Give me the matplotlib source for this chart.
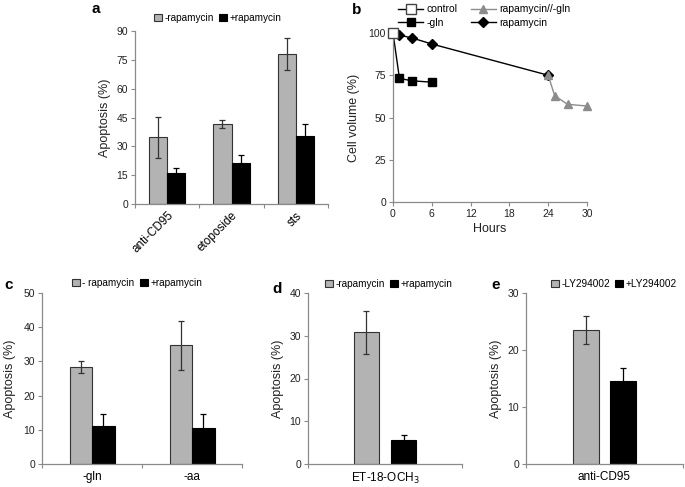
import matplotlib
matplotlib.use("Agg")
import matplotlib.pyplot as plt
import numpy as np

plt.rcParams['font.family'] = ['Liberation Sans', 'DejaVu Sans']

# panel a
a_cats = ["anti-CD95", "etoposide", "sts"]
a_minus = [34.6, 41.5, 77.9]
a_minus_err = [10.5, 2.0, 8.3]
a_plus = [15.9, 21.3, 35.5]
a_plus_err = [2.8, 4.3, 6.0]

# panel b
b_ctrl_x = [0]
b_ctrl_y = [100]
b_gln_x = [0, 1, 3, 6]
b_gln_y = [100, 73.1, 71.7, 70.9]
b_rap_x = [0, 1, 3, 6, 24]
b_rap_y = [100, 98.8, 97.0, 93.5, 75.0]
b_rapgln_x = [24, 25, 27, 30]
b_rapgln_y = [75.0, 62.9, 57.8, 56.8]

# panel c
c_cats = ["-gln", "-aa"]
c_minus = [28.3, 34.7]
c_minus_err = [1.7, 7.1]
c_plus = [11.1, 10.5]
c_plus_err = [3.5, 4.1]

# panel d
d_cats = ["ET-18-OCH$_3$"]
d_minus = [30.8]
d_minus_err = [5.0]
d_plus = [5.5]
d_plus_err = [1.3]

# panel e
e_cats = ["anti-CD95"]
e_minus = [23.5]
e_minus_err = [2.5]
e_plus = [14.6]
e_plus_err = [2.2]

GRAY = '#b3b3b3'
SPINE = '#8a8a8a'
W, H = 685, 487

fig = plt.figure(figsize=(6.85, 4.87), dpi=100)


def add_ax(left, right, top, bottom):
    return fig.add_axes([left / W, 1 - bottom / H, (right - left) / W, (bottom - top) / H])


def style(ax):
    for s in ['top', 'right']:
        ax.spines[s].set_visible(False)
    for s in ['left', 'bottom']:
        ax.spines[s].set_color(SPINE)
        ax.spines[s].set_linewidth(0.9)
    ax.tick_params(axis='both', which='major', length=3, width=0.8, color=SPINE,
                   labelsize=7.5, labelcolor='#222222', pad=2)


def bars(ax, n, minus, minus_err, plus, plus_err, width, off, cats, ylim, yticks):
    centers = np.arange(n) + 0.5
    ekw = dict(ecolor='#333333', elinewidth=0.9, capsize=2.5, capthick=0.9)
    ekw_black = dict(ekw, ecolor='black')
    ax.bar(centers - off, minus, width, yerr=minus_err, color=GRAY, edgecolor='#333333',
           linewidth=0.8, error_kw=ekw, label='minus')
    ax.bar(centers + off, plus, width, yerr=plus_err, color='black', edgecolor='black',
           linewidth=0.8, error_kw=ekw_black, label='plus')
    ax.set_xlim(0, n)
    ax.set_ylim(*ylim)
    ax.set_yticks(yticks)
    ax.set_xticks(np.arange(n + 1))
    ax.set_xticklabels([])
    ax.set_xticks(centers, minor=True)
    ax.set_xticklabels(cats, minor=True)
    ax.tick_params(axis='x', which='minor', length=0, labelsize=8.5, pad=5)
    style(ax)


def bar_legend(ax, labels, cx, cy):
    h, _ = ax.get_legend_handles_labels()
    fig.legend(h, labels, loc='center', bbox_to_anchor=(cx / W, 1 - cy / H), ncol=2,
               frameon=False, fontsize=7.2, handlelength=0.8, handleheight=0.8,
               handletextpad=0.25, columnspacing=0.5, borderpad=0)


ylab = dict(fontsize=9, color='#222222')

# a
ax_a = add_ax(135, 328, 31, 204)
bars(ax_a, 3, a_minus, a_minus_err, a_plus, a_plus_err, 0.28, 0.14, a_cats, (0, 90), range(0, 91, 15))
for t in ax_a.get_xticklabels(minor=True):
    t.set_rotation(45)
    t.set_ha('right')
    t.set_rotation_mode('anchor')
ax_a.tick_params(axis='x', which='minor', labelsize=8.5, pad=4)
ax_a.set_ylabel("Apoptosis (%)", labelpad=4, **ylab)
bar_legend(ax_a, ["-rapamycin", "+rapamycin"], 218, 18)
fig.text(92 / W, 1 - 9 / H, "a", fontsize=11, fontweight='bold', va='center')

# b
ax_b = add_ax(393, 587, 33, 202)
ax_b.plot(b_gln_x, b_gln_y, color='black', marker='s', markersize=6, lw=1.0, clip_on=False, label='-gln')
ax_b.plot(b_rap_x, b_rap_y, color='black', marker='D', markersize=5.5, lw=1.0, clip_on=False, label='rapamycin')
ax_b.plot(b_rapgln_x, b_rapgln_y, color='#8c8c8c', marker='^', markersize=6, lw=1.0, clip_on=False,
          label='rapamycin//-gln')
ax_b.plot(b_ctrl_x, b_ctrl_y, color='black', marker='s', markersize=7, mfc='white', mec='#444444',
          lw=1.0, clip_on=False, zorder=5, label='control')
ax_b.set_xlim(0, 30)
ax_b.set_ylim(0, 100)
ax_b.set_xticks(range(0, 31, 6))
ax_b.set_yticks(range(0, 101, 25))
style(ax_b)
ax_b.set_xlabel("Hours", labelpad=3, **ylab)
ax_b.set_ylabel("Cell volume (%)", labelpad=6, **ylab)
hb, lb = ax_b.get_legend_handles_labels()
order = [3, 0, 2, 1]
fig.legend([hb[i] for i in order], [lb[i] for i in order], loc='upper left',
           bbox_to_anchor=(393 / W, 1 + 1 / H), ncol=2, frameon=False, fontsize=7.5,
           handlelength=2.4, handletextpad=0.3, columnspacing=1.3, labelspacing=0.35, borderpad=0)
fig.text(352 / W, 1 - 10 / H, "b", fontsize=11, fontweight='bold', va='center')

# c
ax_c = add_ax(42, 242, 293, 464)
bars(ax_c, 2, c_minus, c_minus_err, c_plus, c_plus_err, 0.225, 0.1125, c_cats, (0, 50), range(0, 51, 10))
ax_c.set_ylabel("Apoptosis (%)", labelpad=5, **ylab)
bar_legend(ax_c, ["- rapamycin", "+rapamycin"], 137, 283)
fig.text(4 / W, 1 - 285 / H, "c", fontsize=11, fontweight='bold', va='center')

# d
ax_d = add_ax(308, 462, 293, 464)
bars(ax_d, 1, d_minus, d_minus_err, d_plus, d_plus_err, 0.162, 0.121, d_cats, (0, 40), range(0, 41, 10))
ax_d.set_ylabel("Apoptosis (%)", labelpad=4, **ylab)
bar_legend(ax_d, ["-rapamycin", "+rapamycin"], 389, 284)
fig.text(272 / W, 1 - 289 / H, "d", fontsize=11, fontweight='bold', va='center')

# e
ax_e = add_ax(526, 683, 293, 464)
bars(ax_e, 1, e_minus, e_minus_err, e_plus, e_plus_err, 0.166, 0.118, e_cats, (0, 30), range(0, 31, 10))
ax_e.set_ylabel("Apoptosis (%)", labelpad=4, **ylab)
bar_legend(ax_e, ["-LY294002", "+LY294002"], 614, 284)
fig.text(491 / W, 1 - 285 / H, "e", fontsize=11, fontweight='bold', va='center')

fig.savefig("out.png", dpi=100)
